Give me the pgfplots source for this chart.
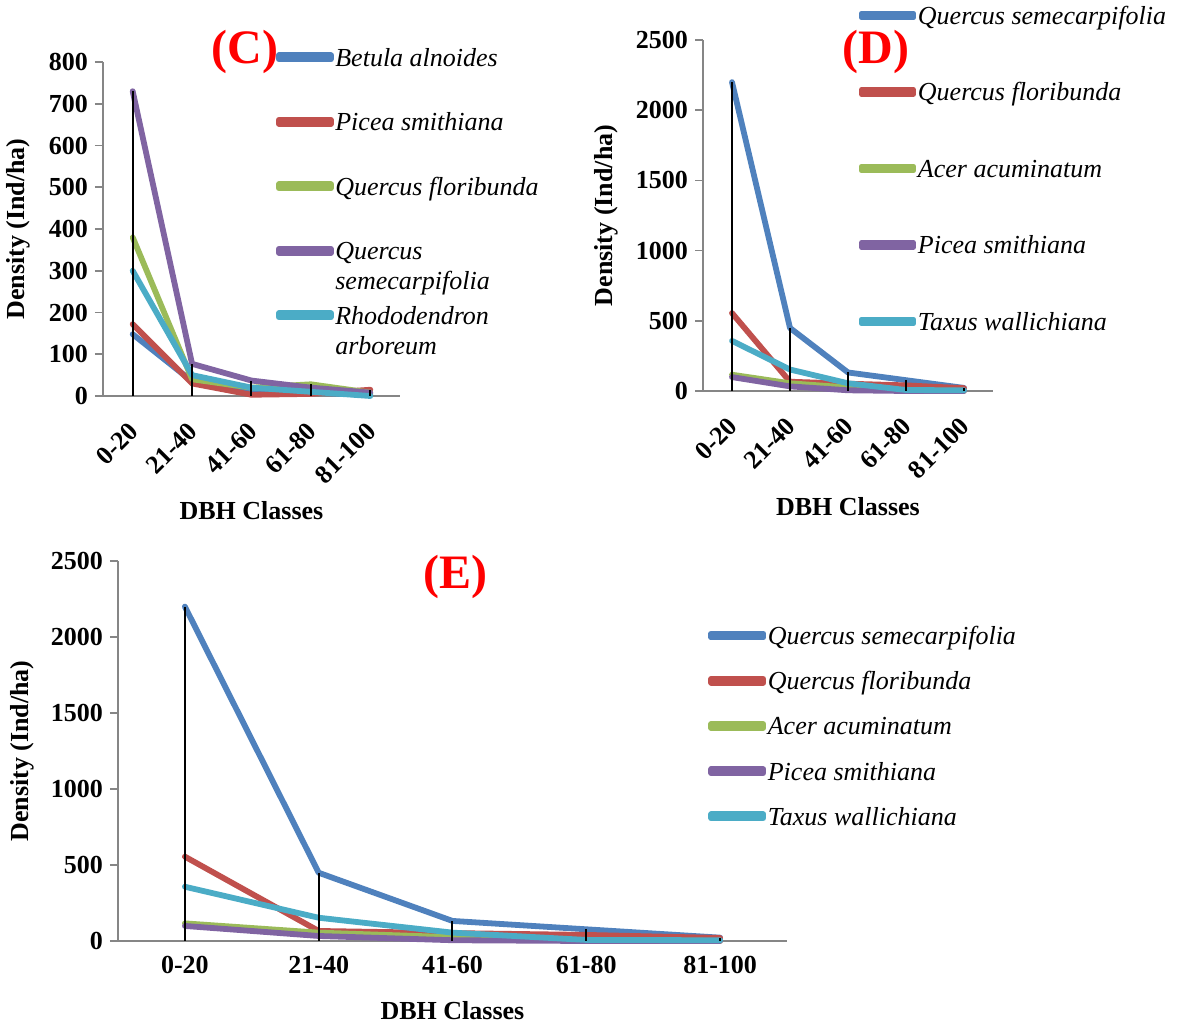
\documentclass[border=0pt]{standalone}
\usepackage{fontspec}
\setmainfont{Liberation Serif}
\usepackage{pgfplots}
\pgfplotsset{compat=1.18}

\definecolor{sBlue}{HTML}{4F81BD}
\definecolor{sRed}{HTML}{C0504D}
\definecolor{sGreen}{HTML}{9BBB59}
\definecolor{sPurple}{HTML}{8064A2}
\definecolor{sCyan}{HTML}{4BACC6}
\definecolor{axgray}{HTML}{868686}
\newcommand\fs{\fontsize{13}{15}\selectfont}

\tikzset{ttl/.style={text=red, font=\bfseries\fontsize{24}{28}\selectfont}}
\pgfplotsset{
  panel/.style={
    scale only axis,
    axis x line=bottom, axis y line=left,
    axis line style={axgray, line width=0.8pt, -},
    xmin=-0.5, xmax=4.5, ymin=0,
    xtick={0,...,4},
    xticklabels={0-20,21-40,41-60,61-80,81-100},
    x tick style={draw=none},
    y tick style={axgray, line width=0.8pt},
    tick align=outside,
    major tick length=4pt,
    ticklabel style={font=\fs\bfseries},
    /pgf/number format/assume math mode=true,
    /pgf/number format/1000 sep={},
    xlabel={DBH Classes}, ylabel={Density (Ind/ha)},
    label style={font=\fs\bfseries},
    clip=false,
    every axis plot/.append style={line width=2.9pt, line cap=round, line join=round, no marks},
    legend cell align=left,
    legend image code/.code={\path (0pt,-1pt) rectangle (26pt,1pt);
      \draw[##1,line cap=round] (1.45pt,0pt) -- (24.55pt,0pt);},
    legend style={draw=none, fill=none, inner sep=0pt, column sep=0.8pt,
      anchor=north west, font=\fs\itshape,
      nodes={inner sep=0pt, text height=11pt, text depth=2pt}},
  },
  rot/.style={xticklabel style={rotate=45, anchor=east, xshift=-4.25pt, yshift=-8.5pt}},
  drop/.style={ycomb, black, line width=1pt, line cap=butt, forget plot},
}

\begin{document}
\begin{tikzpicture}
\useasboundingbox (0,0) rectangle (592.5pt,514.5pt);

% ---- (C)
\begin{axis}[panel, rot,
  at={(51.5pt,316.5pt)}, anchor=south west,
  width=148.5pt, height=167pt,
  ymax=800, ytick={0,100,...,800},
  ylabel style={at={(axis description cs:-0.286,0.5)}, anchor=center},
  xlabel style={at={(axis description cs:0.5,-0.344)}, anchor=center},
  legend style={at={(axis description cs:0.581,1.054)}, row sep=19.25pt},
]
\addplot[sBlue] coordinates {(0,148)(1,35)(2,15)(3,8)(4,3)};
\addlegendentry{Betula alnoides}
\addplot[sRed] coordinates {(0,172)(1,30)(2,3)(3,5)(4,15)};
\addlegendentry{Picea smithiana}
\addplot[sGreen] coordinates {(0,380)(1,40)(2,20)(3,28)(4,8)};
\addlegendentry{Quercus floribunda}
\addplot[sPurple] coordinates {(0,730)(1,77)(2,37)(3,20)(4,8)};
\addlegendentry{\begin{tabular}[t]{@{}l@{}}Quercus\\semecarpifolia\end{tabular}}
\addplot[sCyan] coordinates {(0,300)(1,50)(2,20)(3,10)(4,0)};
\addlegendentry{\begin{tabular}[t]{@{}l@{}}Rhododendron\\arboreum\end{tabular}}
\addplot[drop] coordinates {(0,730)(1,77)(2,37)(3,28)(4,15)};
\node[ttl] at (rel axis cs:0.478,1.03) {(C)};
\end{axis}

% ---- (D)
\begin{axis}[panel, rot,
  at={(351.5pt,319pt)}, anchor=south west,
  width=145pt, height=175.5pt,
  ymax=2500, ytick={0,500,...,2500},
  ylabel style={at={(axis description cs:-0.334,0.5)}, anchor=center},
  xlabel style={at={(axis description cs:0.5,-0.328)}, anchor=center},
  legend style={at={(axis description cs:0.535,1.108)}, row sep=25.25pt},
]
\addplot[sBlue] coordinates {(0,2200)(1,449)(2,132)(3,77)(4,22)};
\addlegendentry{Quercus semecarpifolia}
\addplot[sRed] coordinates {(0,555)(1,66)(2,52)(3,40)(4,20)};
\addlegendentry{Quercus floribunda}
\addplot[sGreen] coordinates {(0,116)(1,55)(2,25)(3,5)(4,0)};
\addlegendentry{Acer acuminatum}
\addplot[sPurple] coordinates {(0,99)(1,33)(2,5)(3,0)(4,0)};
\addlegendentry{Picea smithiana}
\addplot[sCyan] coordinates {(0,357)(1,153)(2,55)(3,7)(4,5)};
\addlegendentry{Taxus wallichiana}
\addplot[drop] coordinates {(0,2200)(1,449)(2,132)(3,77)(4,22)};
\node[ttl] at (rel axis cs:0.597,0.966) {(D)};
\end{axis}

% ---- (E)
\begin{axis}[panel,
  at={(59pt,44pt)}, anchor=south west,
  width=334.5pt, height=190pt,
  ymax=2500, ytick={0,500,...,2500},
  ylabel style={at={(axis description cs:-0.1435,0.5)}, anchor=center},
  xlabel style={at={(axis description cs:0.5,-0.184)}, anchor=center},
  legend style={at={(axis description cs:0.882,0.839)}, row sep=9.6pt},
]
\addplot[sBlue] coordinates {(0,2200)(1,449)(2,132)(3,77)(4,22)};
\addlegendentry{Quercus semecarpifolia}
\addplot[sRed] coordinates {(0,555)(1,66)(2,52)(3,40)(4,20)};
\addlegendentry{Quercus floribunda}
\addplot[sGreen] coordinates {(0,116)(1,55)(2,25)(3,5)(4,0)};
\addlegendentry{Acer acuminatum}
\addplot[sPurple] coordinates {(0,99)(1,33)(2,5)(3,0)(4,0)};
\addlegendentry{Picea smithiana}
\addplot[sCyan] coordinates {(0,357)(1,153)(2,55)(3,7)(4,5)};
\addlegendentry{Taxus wallichiana}
\addplot[drop] coordinates {(0,2200)(1,449)(2,132)(3,77)(4,22)};
\node[ttl] at (rel axis cs:0.505,0.958) {(E)};
\end{axis}
\end{tikzpicture}
\end{document}
